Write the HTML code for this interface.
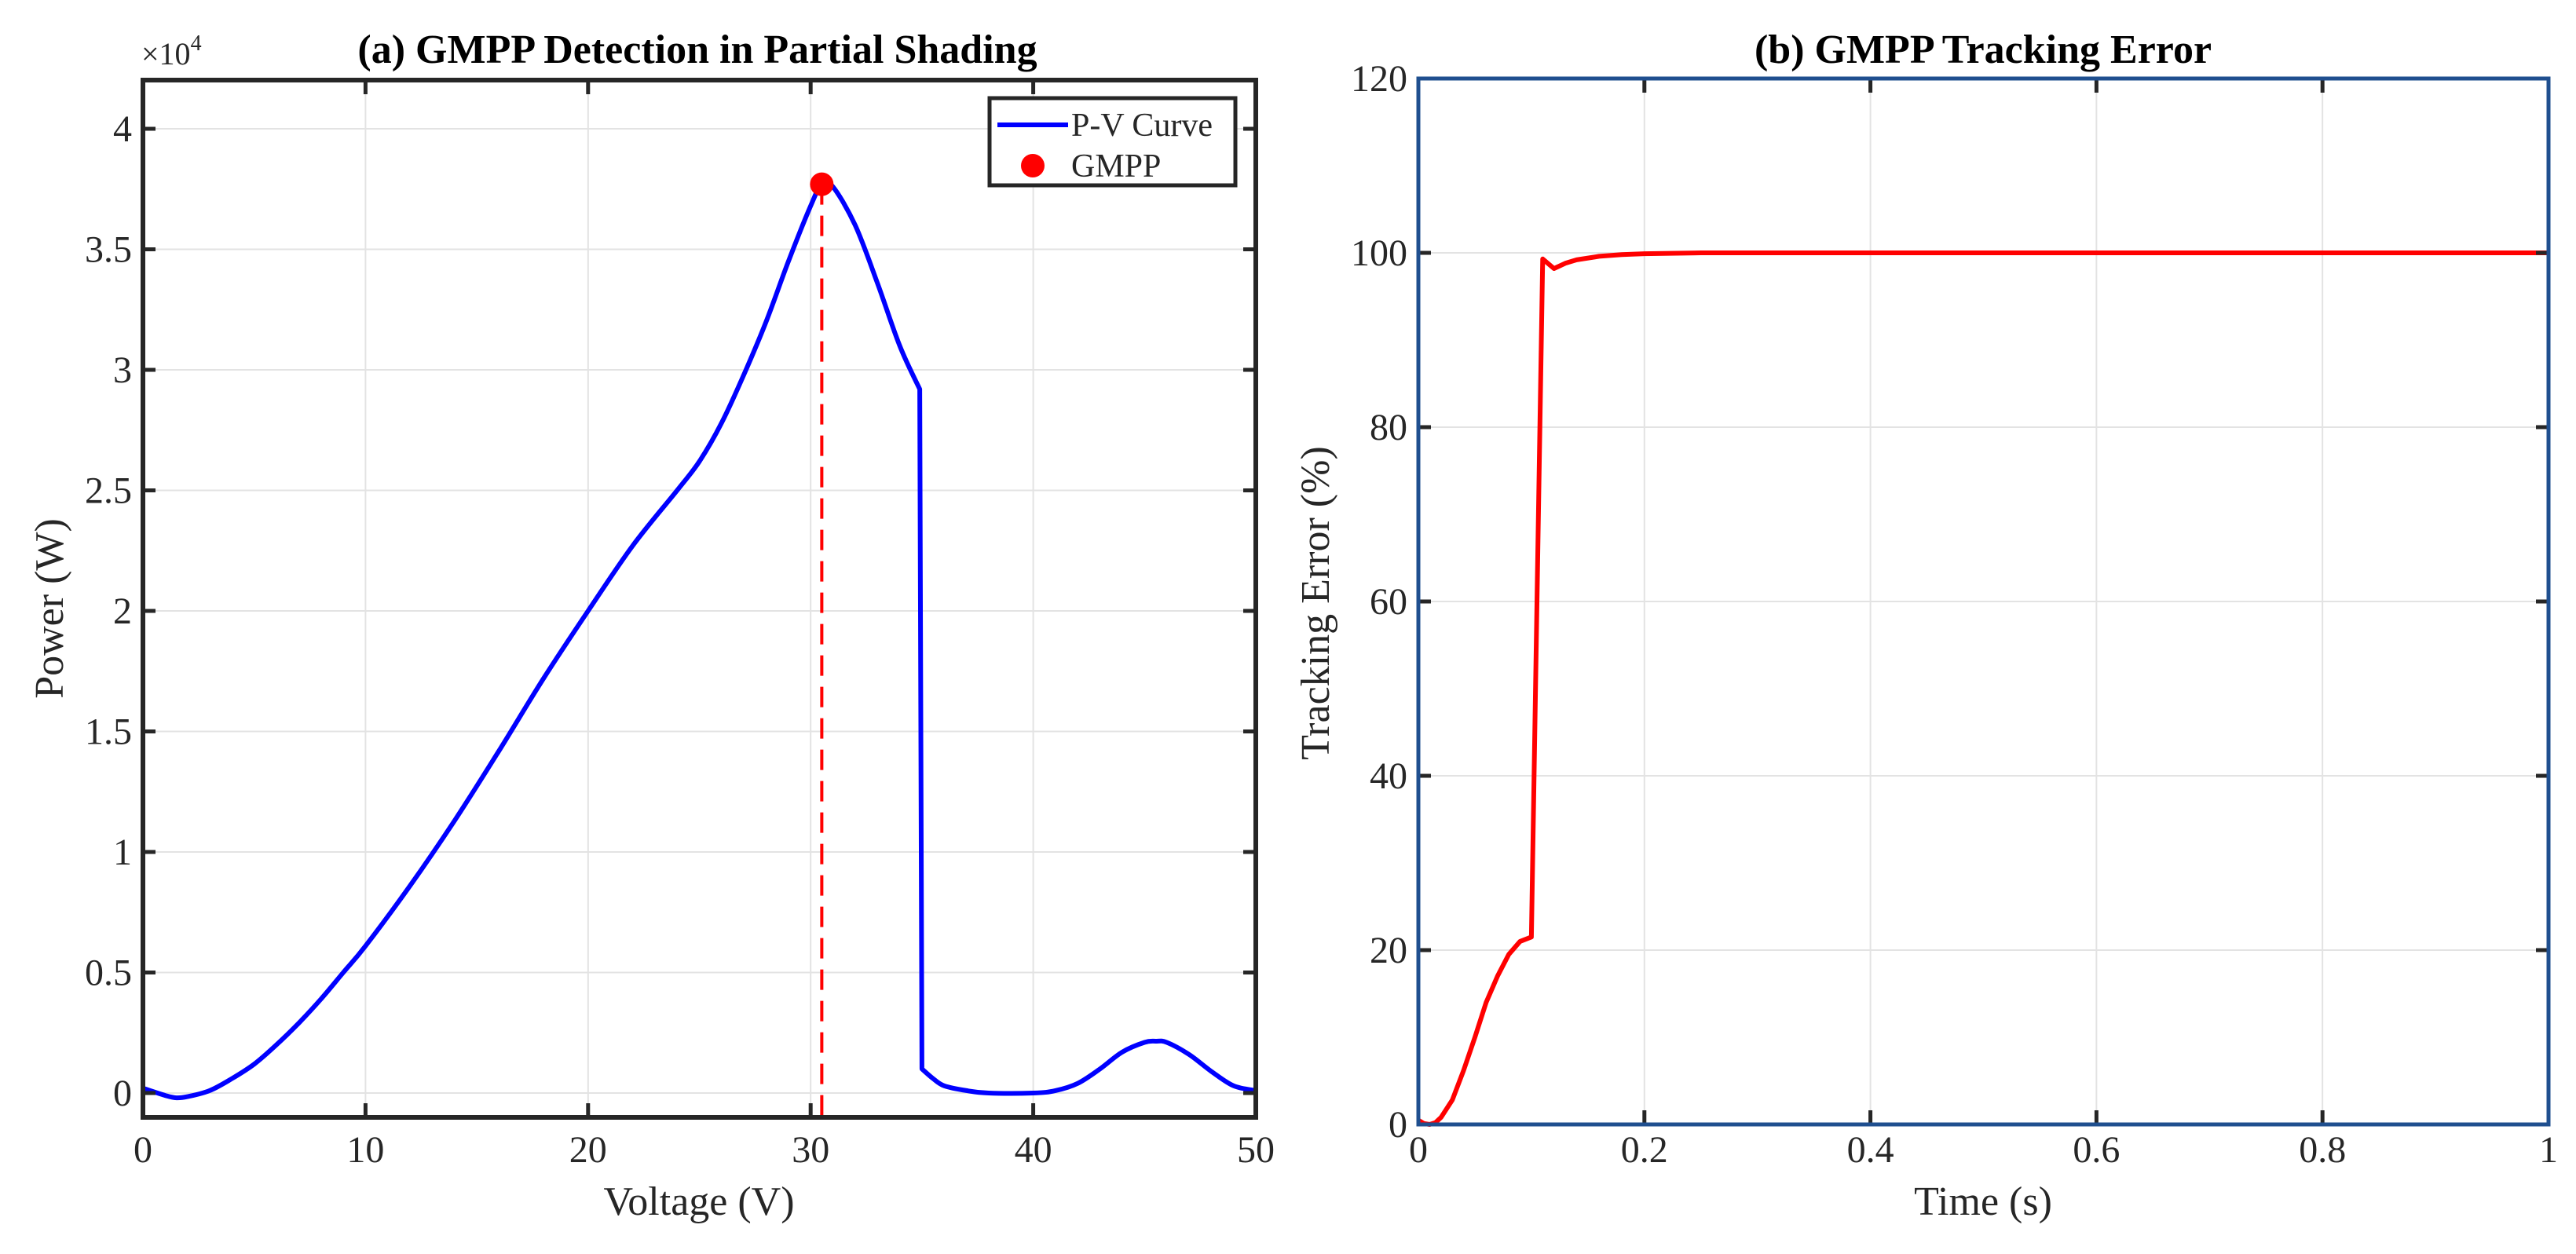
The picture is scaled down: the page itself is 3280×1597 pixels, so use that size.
<!DOCTYPE html>
<html><head><meta charset="utf-8"><style>
html,body{margin:0;padding:0;background:#fff;}
svg{display:block;font-family:"Liberation Serif",serif;}
</style></head><body>
<svg id="fig" width="3280" height="1597" viewBox="0 0 3280 1597" xmlns="http://www.w3.org/2000/svg">
<rect width="3280" height="1597" fill="#fff"/>
<g id="left"></g>
<g id="right"></g>
</svg>
<script>
// Chart (a) data
const pvVoltage = [0,1,1.5,2,3,4,5,6,7,8,9,10,12,14,16,18,20,22,24,25,26,27,28,29,30,30.5,31,32,33,34,34.9,35,35.5,36,37,38,40,41,42,43,44,45,45.5,46,47,48,49,50];
const pvPower = [0.02,-0.01,-0.02,-0.015,0.01,0.06,0.12,0.2,0.29,0.39,0.5,0.61,0.86,1.13,1.42,1.72,2.0,2.27,2.5,2.62,2.78,2.98,3.2,3.45,3.68,3.77,3.76,3.6,3.36,3.1,2.92,0.1,0.06,0.03,0.01,0,0,0.01,0.04,0.1,0.17,0.21,0.215,0.21,0.16,0.09,0.03,0.01];
const gmppV = [30.5];
const gmppP = [3.77];
const pvXTicks = [0,10,20,30,40,50];
const pvYTicks = [0,0.5,1,1.5,2,2.5,3,3.5,4];
const pvYTickLabels = ["0","0.5","1","1.5","2","2.5","3","3.5","4"];
// Chart (b) data
const errTime = [0,0.005,0.01,0.015,0.02,0.03,0.04,0.05,0.06,0.07,0.08,0.09,0.1,0.11,0.12,0.13,0.14,0.16,0.18,0.2,0.25,0.3,0.5,1];
const errValue = [0.5,0.1,0,0.2,0.8,2.8,6.2,10,14,17,19.5,21,21.5,99.3,98.2,98.8,99.2,99.6,99.8,99.9,100,100,100,100];
const errXTicks = [0,0.2,0.4,0.6,0.8,1];
const errXTickLabels = ["0","0.2","0.4","0.6","0.8","1"];
const errYTicks = [0,20,40,60,80,100,120];

const NS = "http://www.w3.org/2000/svg";
function mk(parent, tag, attrs, text){
  const e = document.createElementNS(NS, tag);
  for (const k in attrs) e.setAttribute(k, attrs[k]);
  if (text !== undefined) e.textContent = text;
  parent.appendChild(e); return e;
}
// Catmull-Rom smoothing, breaking at near-vertical segments
function smoothPath(pts){
  const segs=[]; let cur=[pts[0]];
  for(let i=1;i<pts.length;i++){
    const dx=pts[i][0]-pts[i-1][0], dy=pts[i][1]-pts[i-1][1];
    if(Math.abs(dy)>6*Math.abs(dx)){ segs.push(cur); cur=[pts[i-1],pts[i]]; segs.push(cur); cur=[pts[i]]; }
    else cur.push(pts[i]);
  }
  segs.push(cur);
  let d='M'+pts[0][0].toFixed(1)+' '+pts[0][1].toFixed(1);
  for(const s of segs){
    if(s.length<2) continue;
    if(s.length===2){ d+=' L'+s[1][0].toFixed(1)+' '+s[1][1].toFixed(1); continue; }
    for(let i=0;i<s.length-1;i++){
      const p0=s[Math.max(0,i-1)],p1=s[i],p2=s[i+1],p3=s[Math.min(s.length-1,i+2)];
      const c1=[p1[0]+(p2[0]-p0[0])/6,p1[1]+(p2[1]-p0[1])/6];
      const c2=[p2[0]-(p3[0]-p1[0])/6,p2[1]-(p3[1]-p1[1])/6];
      d+=' C'+c1[0].toFixed(1)+' '+c1[1].toFixed(1)+' '+c2[0].toFixed(1)+' '+c2[1].toFixed(1)+' '+p2[0].toFixed(1)+' '+p2[1].toFixed(1);
    }
  }
  return d;
}

// ---------- Chart (a) ----------
(function(){
  const g = document.getElementById('left');
  const L=182, R=1599, T=102, B=1423;
  const xs = v => L + (v-0)/(50-0)*(R-L);
  const ys = p => 1392 - p/0.5*153.5;
  for (const t of pvXTicks) {
    const gl = mk(g,'line',{x1:xs(t),x2:xs(t),y1:T,y2:B,stroke:'#e3e3e3','stroke-width':2});
    
    
  }
  for (const t of pvYTicks) {
    const gl = mk(g,'line',{x1:L,x2:R,y1:ys(t),y2:ys(t),stroke:'#e3e3e3','stroke-width':2});
    
    
  }
  const pts = pvVoltage.map((v,i)=>[xs(v),ys(pvPower[i])]);
  const curve = mk(g,'path',{d:smoothPath(pts),fill:'none',stroke:'#0000ff','stroke-width':6,'stroke-linejoin':'round'});
  
  
  const dl = mk(g,'line',{x1:xs(gmppV[0]),x2:xs(gmppV[0]),y1:ys(gmppP[0]),y2:B,stroke:'#ff0000','stroke-width':4,'stroke-dasharray':'26 14'});
  
  
  const dot = mk(g,'circle',{cx:xs(gmppV[0]),cy:ys(gmppP[0]),r:15,fill:'#ff0000'});
  
  
  for (const t of pvXTicks) {
    const tk = mk(g,'line',{x1:xs(t),x2:xs(t),y1:B,y2:B-18,stroke:'#262626','stroke-width':5});
    
    
    const tk2 = mk(g,'line',{x1:xs(t),x2:xs(t),y1:T,y2:T+18,stroke:'#262626','stroke-width':5});
    
    
    const lb = mk(g,'text',{x:xs(t),y:1480,'font-size':48,'text-anchor':'middle',fill:'#262626'},String(t));
    
    
  }
  pvYTicks.forEach((t,i)=>{
    const tk = mk(g,'line',{x1:L,x2:L+16,y1:ys(t),y2:ys(t),stroke:'#262626','stroke-width':5});
    
    
    const tk2 = mk(g,'line',{x1:R,x2:R-16,y1:ys(t),y2:ys(t),stroke:'#262626','stroke-width':5});
    
    
    const lb = mk(g,'text',{x:L-14,y:ys(t)+16,'font-size':48,'text-anchor':'end',fill:'#262626'},pvYTickLabels[i]);
    
    
  });
  const fr = mk(g,'rect',{x:L,y:T,width:R-L,height:B-T,fill:'none',stroke:'#262626','stroke-width':6});
  
  
  const lg = mk(g,'g',{});
  
  
  mk(lg,'rect',{x:1260,y:125,width:313,height:111,fill:'#fff',stroke:'#262626','stroke-width':5});
  const l1 = mk(lg,'line',{x1:1270,x2:1360,y1:159,y2:159,stroke:'#0000ff','stroke-width':6});
  
  
  const t1 = mk(lg,'text',{x:1364,y:173,'font-size':42,fill:'#262626'},'P-V Curve');
  
  
  const c1 = mk(lg,'circle',{cx:1315,cy:211,r:15,fill:'#ff0000'});
  
  
  const t2 = mk(lg,'text',{x:1364,y:225,'font-size':42,fill:'#262626'},'GMPP');
  
  
  const ex = mk(g,'text',{x:180,y:82,'font-size':40,fill:'#262626'},'×10');
  
  
  mk(ex,'tspan',{dy:-18,'font-size':28},'4');
  const ti = mk(g,'text',{x:888,y:80,'font-size':52,'font-weight':'bold','text-anchor':'middle',fill:'#000'},'(a) GMPP Detection in Partial Shading');
  
  
  const xl = mk(g,'text',{x:890,y:1547,'font-size':52,'text-anchor':'middle',fill:'#262626'},'Voltage (V)');
  
  
  const yl = mk(g,'text',{x:0,y:0,'font-size':52,'text-anchor':'middle',fill:'#262626',transform:'translate(80,775) rotate(-90)'},'Power (W)');
  
  
})();

// ---------- Chart (b) ----------
(function(){
  const g = document.getElementById('right');
  const L=1806, R=3245, T=100, B=1432;
  const xs = v => L + v*(R-L);
  const ys = p => B - p/120*(B-T);
  for (const t of errXTicks) {
    const gl = mk(g,'line',{x1:xs(t),x2:xs(t),y1:T,y2:B,stroke:'#e3e3e3','stroke-width':2});
    
    
  }
  for (const t of errYTicks) {
    const gl = mk(g,'line',{x1:L,x2:R,y1:ys(t),y2:ys(t),stroke:'#e3e3e3','stroke-width':2});
    
    
  }
  let d = errTime.map((v,i)=>(i?'L':'M')+xs(v).toFixed(1)+' '+ys(errValue[i]).toFixed(1)).join(' ');
  const ln = mk(g,'path',{d:d,fill:'none',stroke:'#ff0000','stroke-width':6,'stroke-linejoin':'round'});
  
  
  errXTicks.forEach((t,i)=>{
    const tk = mk(g,'line',{x1:xs(t),x2:xs(t),y1:B,y2:B-18,stroke:'#262626','stroke-width':5});
    
    
    const tk2 = mk(g,'line',{x1:xs(t),x2:xs(t),y1:T,y2:T+18,stroke:'#262626','stroke-width':5});
    
    
    const lb = mk(g,'text',{x:xs(t),y:1480,'font-size':48,'text-anchor':'middle',fill:'#262626'},errXTickLabels[i]);
    
    
  });
  for (const t of errYTicks) {
    const tk = mk(g,'line',{x1:L,x2:L+16,y1:ys(t),y2:ys(t),stroke:'#262626','stroke-width':5});
    
    
    const tk2 = mk(g,'line',{x1:R,x2:R-16,y1:ys(t),y2:ys(t),stroke:'#262626','stroke-width':5});
    
    
    const lb = mk(g,'text',{x:L-14,y:ys(t)+16,'font-size':48,'text-anchor':'end',fill:'#262626'},String(t));
    
    
  }
  const fr = mk(g,'rect',{x:L,y:T,width:R-L,height:B-T,fill:'none',stroke:'#1f4f8f','stroke-width':5});
  
  
  const ti = mk(g,'text',{x:2525,y:80,'font-size':52,'font-weight':'bold','text-anchor':'middle',fill:'#000'},'(b) GMPP Tracking Error');
  
  
  const xl = mk(g,'text',{x:2525,y:1547,'font-size':52,'text-anchor':'middle',fill:'#262626'},'Time (s)');
  
  
  const yl = mk(g,'text',{x:0,y:0,'font-size':52,'text-anchor':'middle',fill:'#262626',transform:'translate(1692,768) rotate(-90)'},'Tracking Error (%)');
  
  
})();
</script>
</body></html>
